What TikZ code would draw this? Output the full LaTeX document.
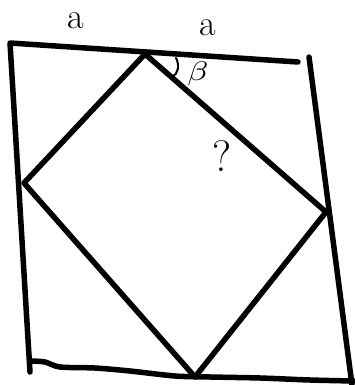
\documentclass[tikz,border=0pt]{standalone}
\begin{document}
\begin{tikzpicture}[x=1pt,y=-1pt,
  stroke/.style={line width=5.5pt,line cap=round,line join=round,black},
  lbl/.style={font=\fontsize{36}{36}\selectfont,inner sep=0pt}]
\useasboundingbox (0,0) rectangle (354,385);
% frame corners
\coordinate (tl) at (10,43);
\coordinate (tr) at (298,62);
\coordinate (bl) at (30,372);
\coordinate (rt) at (309,57);
\coordinate (rb) at (352,385);
% diamond vertices
\coordinate (dT) at (145,54);
\coordinate (dL) at (24,183);
\coordinate (dB) at (195,377);
\coordinate (dR) at (326,212);
\draw[stroke] (tr) -- (tl) -- (bl);
\draw[stroke] (rt) -- (rb);
\draw[stroke] plot[smooth] coordinates {(31,361) (45,362) (60,367) (95,368) (130,371) (175,376) (210,377) (260,378) (310,380) (354,381)};
\draw[stroke] (dT) -- (dR) -- (dB) -- (dL) -- cycle;
% angle mark
\draw[line width=2pt,line cap=round] (176,58) .. controls (180,66) and (178,74) .. (172,77);
\node[inner sep=0pt] (b) at (198,74) {\scalebox{3.4}[2.7]{$\beta$}};
\node[lbl] (a1) at (76,21) {a};
\node[lbl] (a2) at (208,28) {a};
\node[inner sep=0pt,font=\fontsize{44}{44}\selectfont] (q) at (222,156) {?};
\end{tikzpicture}
\end{document}
